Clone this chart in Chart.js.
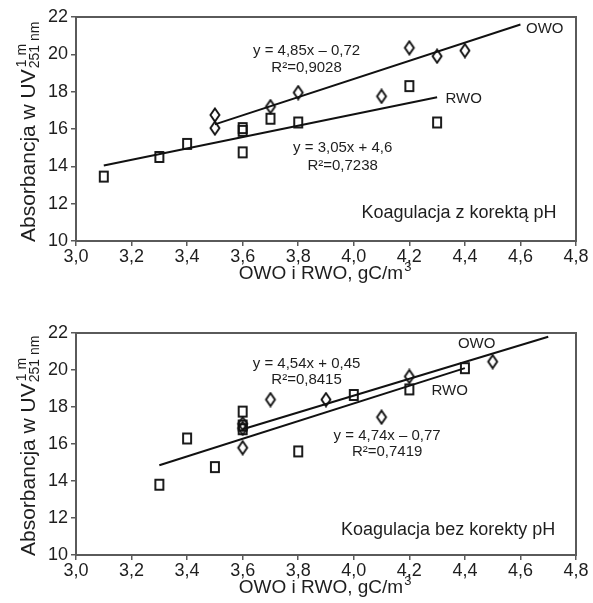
<!DOCTYPE html>
<html lang="pl">
<head>
<meta charset="UTF-8">
<title>Absorbancja UV a OWO i RWO</title>
<script src="https://cdn.jsdelivr.net/npm/chart.js"></script>
<style>
  body { margin: 0; background: #fff; }
  .box { position: relative; width: 593px; }
  #top { height: 300px; }
  #bottom { height: 303px; }
</style>
</head>
<body>
<div class="box" id="top"><canvas id="chartTop"></canvas></div>
<div class="box" id="bottom"><canvas id="chartBottom"></canvas></div>
<script>
// wartosci - koagulacja z korekta pH
const owoX1 = [3.5, 3.5, 3.7, 3.8, 4.1, 4.2, 4.3, 4.4];
const owoY1 = [16.75, 16.05, 17.2, 17.95, 17.75, 20.35, 19.9, 20.2];
const rwoX1 = [3.1, 3.3, 3.4, 3.6, 3.6, 3.6, 3.7, 3.8, 4.2, 4.3];
const rwoY1 = [13.45, 14.5, 15.2, 16.05, 15.9, 14.75, 16.55, 16.35, 18.3, 16.35];
const owoFitX1 = [3.5, 4.6];
const owoFitY1 = [16.25, 21.6];
const rwoFitX1 = [3.1, 4.3];
const rwoFitY1 = [14.05, 17.7];

// koagulacja bez korekty pH
const owoX2 = [3.6, 3.6, 3.6, 3.7, 3.9, 4.1, 4.2, 4.5];
const owoY2 = [17.1, 16.85, 15.8, 18.4, 18.4, 17.45, 19.65, 20.45];
const rwoX2 = [3.3, 3.4, 3.5, 3.6, 3.6, 3.6, 3.8, 4.0, 4.2, 4.4];
const rwoY2 = [13.8, 16.3, 14.75, 17.75, 17.0, 16.8, 15.6, 18.65, 18.95, 20.1];
const owoFitX2 = [3.6, 4.7];
const owoFitY2 = [16.8, 21.8];
const rwoFitX2 = [3.3, 4.4];
const rwoFitY2 = [14.85, 20.1];

const FONT = '"Liberation Sans", Arial, sans-serif';
const INK = '#1e1e1e';

function pts(xs, ys) {
  return xs.map((x, i) => ({ x: x, y: ys[i] }));
}

// otwarte znaczniki: kwadrat i romb
function marker(kind) {
  const c = document.createElement('canvas');
  c.width = 14; c.height = 16;
  const g = c.getContext('2d');
  g.strokeStyle = '#111';
  g.lineWidth = 1.9;
  if (kind === 'sq') {
    g.strokeRect(3, 3, 8, 10);
  } else {
    g.beginPath();
    g.moveTo(7, 1.5); g.lineTo(11.5, 8); g.lineTo(7, 14.5); g.lineTo(2.5, 8);
    g.closePath();
    g.stroke();
  }
  return c;
}
const sqImg = marker('sq');
const dmImg = marker('dm');

const extras = {
  id: 'extras',
  afterDraw(chart, args, opts) {
    const ctx = chart.ctx, a = chart.chartArea;
    const x = chart.scales.x, y = chart.scales.y;
    ctx.save();
    ctx.strokeStyle = '#5a5a5a';
    ctx.lineWidth = 2;
    ctx.strokeRect(a.left, a.top, a.right - a.left, a.bottom - a.top);

    ctx.fillStyle = INK;
    ctx.textBaseline = 'middle';
    opts.notes.forEach(n => {
      ctx.font = n.size + 'px ' + FONT;
      ctx.textAlign = n.align || 'center';
      ctx.fillText(n.text, x.getPixelForValue(n.x), y.getPixelForValue(n.y));
    });

    // tytul osi X z indeksem gornym
    ctx.font = '19px ' + FONT;
    const main = 'OWO i RWO, gC/m';
    const w = ctx.measureText(main).width;
    const cx = (a.left + a.right) / 2 - 5;
    const ty = a.bottom + opts.xTitleGap;
    ctx.textAlign = 'left';
    ctx.fillText(main, cx - w / 2, ty);
    ctx.font = '13px ' + FONT;
    ctx.fillText('3', cx + w / 2 + 1, ty - 7);

    // tytul osi Y: Absorbancja w UV z indeksami
    ctx.translate(opts.yTitleX, a.bottom + 1);
    ctx.rotate(-Math.PI / 2);
    ctx.textBaseline = 'alphabetic';
    ctx.textAlign = 'left';
    ctx.font = '21px ' + FONT;
    const t = 'Absorbancja w UV';
    ctx.fillText(t, 0, 0);
    const tw = ctx.measureText(t).width;
    ctx.font = '14px ' + FONT;
    ctx.fillText('1 m', tw + 2, -9);
    ctx.fillText('251 nm', tw + 1, 4);
    ctx.restore();
  }
};

function makeChart(id, d, notes, padTop, xHeight) {
  const tickFont = { family: FONT, size: 18 };
  return new Chart(document.getElementById(id), {
    type: 'scatter',
    data: {
      datasets: [
        { label: 'OWO', data: d.owo, pointStyle: dmImg, pointRadius: 5 },
        { label: 'RWO', data: d.rwo, pointStyle: sqImg, pointRadius: 5 },
        { label: 'OWO fit', data: d.owoFit, showLine: true, pointRadius: 0, borderColor: '#111', borderWidth: 2 },
        { label: 'RWO fit', data: d.rwoFit, showLine: true, pointRadius: 0, borderColor: '#111', borderWidth: 2 }
      ]
    },
    options: {
      responsive: true,
      maintainAspectRatio: false,
      animation: false,
      layout: { padding: { top: padTop, right: 17, bottom: 0, left: 0 } },
      plugins: {
        legend: { display: false },
        tooltip: { enabled: false },
        extras: { notes: notes, xTitleGap: 33, yTitleX: 35 }
      },
      scales: {
        x: {
          type: 'linear', min: 3, max: 4.8,
          ticks: { stepSize: 0.2, autoSkip: false, maxRotation: 0, padding: 0, color: INK, font: tickFont,
                   callback: v => v.toFixed(1).replace('.', ',') },
          grid: { drawOnChartArea: false, drawTicks: true, tickLength: 5, color: '#5a5a5a', lineWidth: 1.5 },
          border: { display: false },
          afterFit(s) { s.height = xHeight; }
        },
        y: {
          min: 10, max: 22,
          ticks: { stepSize: 2, padding: 3, color: INK, font: tickFont },
          grid: { drawOnChartArea: false, drawTicks: true, tickLength: 5, color: '#5a5a5a', lineWidth: 1.5 },
          border: { display: false },
          afterFit(s) { s.width = 76; }
        }
      }
    },
    plugins: [extras]
  });
}

makeChart('chartTop', {
  owo: pts(owoX1, owoY1), rwo: pts(rwoX1, rwoY1),
  owoFit: pts(owoFitX1, owoFitY1), rwoFit: pts(rwoFitX1, rwoFitY1)
}, [
  { text: 'y = 4,85x – 0,72', x: 3.83, y: 20.2, size: 15 },
  { text: 'R²=0,9028', x: 3.83, y: 19.3, size: 15 },
  { text: 'y = 3,05x + 4,6', x: 3.96, y: 15.0, size: 15 },
  { text: 'R²=0,7238', x: 3.96, y: 14.05, size: 15 },
  { text: 'OWO', x: 4.62, y: 21.35, size: 15, align: 'left' },
  { text: 'RWO', x: 4.33, y: 17.6, size: 15, align: 'left' },
  { text: 'Koagulacja z korektą pH', x: 4.73, y: 11.5, size: 18, align: 'right' }
], 17, 59);

makeChart('chartBottom', {
  owo: pts(owoX2, owoY2), rwo: pts(rwoX2, rwoY2),
  owoFit: pts(owoFitX2, owoFitY2), rwoFit: pts(rwoFitX2, rwoFitY2)
}, [
  { text: 'y = 4,54x + 0,45', x: 3.83, y: 20.35, size: 15 },
  { text: 'R²=0,8415', x: 3.83, y: 19.45, size: 15 },
  { text: 'y = 4,74x – 0,77', x: 4.12, y: 16.45, size: 15 },
  { text: 'R²=0,7419', x: 4.12, y: 15.55, size: 15 },
  { text: 'OWO', x: 4.375, y: 21.4, size: 15, align: 'left' },
  { text: 'RWO', x: 4.28, y: 18.85, size: 15, align: 'left' },
  { text: 'Koagulacja bez korekty pH', x: 4.725, y: 11.35, size: 18, align: 'right' }
], 33, 48);
</script>
</body>
</html>
